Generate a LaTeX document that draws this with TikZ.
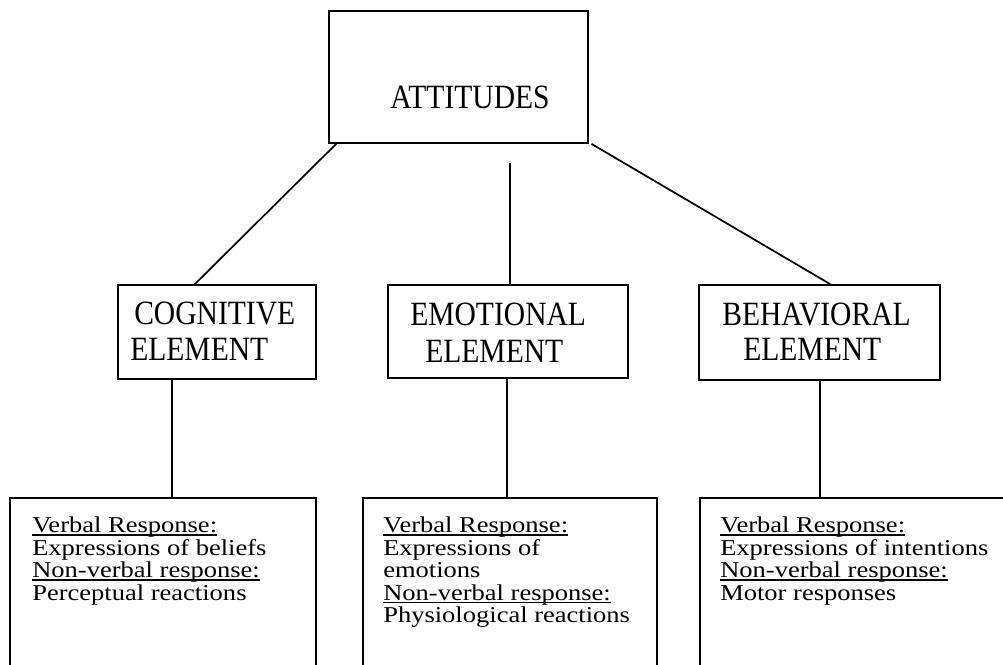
\documentclass[tikz,border=0pt]{standalone}
\usepackage{fontspec}
\setmainfont{Liberation Serif}
\newfontfamily\hdfont{Liberation Serif}[FakeStretch=0.87]
\newfontfamily\bdfont{Liberation Serif}[FakeStretch=1.17]
\usetikzlibrary{calc,fit}
\newcommand\myul[1]{\setbox0\hbox{#1}\rlap{\rule[-2.4pt]{\wd0}{1.1pt}}\box0}
\tikzset{
  box/.style={draw, line width=1.3pt, rectangle, inner sep=0pt},
  conn/.style={draw, line width=1.3pt},
  hd/.style={font=\hdfont\fontsize{25.5pt}{30pt}\selectfont, anchor=base west, inner sep=0pt},
  bd/.style={font=\bdfont\fontsize{17pt}{20pt}\selectfont, anchor=base west, inner sep=0pt}
}
\begin{document}
\begin{tikzpicture}[x=0.75pt,y=-0.75pt]
\useasboundingbox (0,0) rectangle (1003,664);
\clip (0,0) rectangle (1003,664);
% boxes
\node[box, fit={(329,11) (588,143)}] (att) {};
\node[box, fit={(118,285) (316,379)}] (cog) {};
\node[box, fit={(388,285) (628,378)}] (emo) {};
\node[box, fit={(699,285) (940,380)}] (beh) {};
\node[box, fit={(10,498) (316,720)}] (cogR) {};
\node[box, fit={(363,498) (657,720)}] (emoR) {};
\node[box, fit={(700,498) (1060,720)}] (behR) {};
% headings
\node[hd] (attT) at (390,108) {ATTITUDES};
\node[hd] (cogT1) at (134,324) {COGNITIVE};
\node[hd] (cogT2) at (130,360) {ELEMENT};
\node[hd] (emoT1) at (410,325) {EMOTIONAL};
\node[hd] (emoT2) at (425,362) {ELEMENT};
\node[hd] (behT1) at (722,325) {BEHAVIORAL};
\node[hd] (behT2) at (743,360) {ELEMENT};
% connectors
\draw[conn] ($(att.south west)!0.031!(att.south east)$) -- ($(cog.north west)!0.389!(cog.north east)$);
\coordinate (mtop) at (510,163);
\draw[conn] (mtop) -- (mtop |- emo.north);
\draw[conn] ($(att.south west)!1.01!(att.south east)$) -- ($(beh.north west)!0.544!(beh.north east)$);
\coordinate (c1) at ($(cog.south west)!0.273!(cog.south east)$);
\coordinate (c2) at ($(emo.south west)!0.496!(emo.south east)$);
\coordinate (c3) at ($(beh.south west)!0.502!(beh.south east)$);
\draw[conn] (c1) -- (c1 |- cogR.north);
\draw[conn] (c2) -- (c2 |- emoR.north);
\draw[conn] (c3) -- (c3 |- behR.north);
% body text
\node[bd] (cl1) at (32,532.5) {\myul{Verbal Response:}};
\node[bd] (cl2) at (32,555) {Expressions of beliefs};
\node[bd] (cl3) at (32,577.5) {\myul{Non-verbal response:}};
\node[bd] (cl4) at (32,600) {Perceptual reactions};
\node[bd] (el1) at (383,532.5) {\myul{Verbal Response:}};
\node[bd] (el2) at (383,555) {Expressions of};
\node[bd] (el3) at (383,577.5) {emotions};
\node[bd] (el4) at (383,600) {\myul{Non-verbal response:}};
\node[bd] (el5) at (383,622.5) {Physiological reactions};
\node[bd] (bl1) at (720,532.5) {\myul{Verbal Response:}};
\node[bd] (bl2) at (720,555) {Expressions of intentions};
\node[bd] (bl3) at (720,577.5) {\myul{Non-verbal response:}};
\node[bd] (bl4) at (720,600) {Motor responses};
\end{tikzpicture}
\end{document}
